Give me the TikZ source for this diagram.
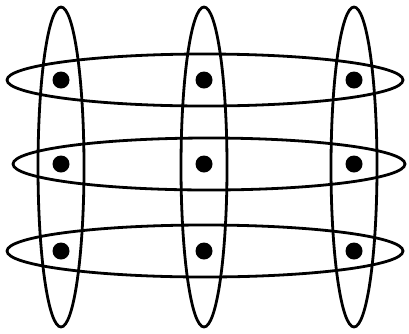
\documentclass[tikz,border=0pt]{standalone}
\usetikzlibrary{shapes,positioning}
\begin{document}
\begin{tikzpicture}[x=1pt,y=-1pt,
    colring/.style={draw, ellipse, line width=2.8pt, minimum width=46pt, minimum height=320pt, inner sep=0pt},
    rowring/.style={draw, ellipse, line width=2.8pt, minimum width=396pt, minimum height=52pt, inner sep=0pt},
    bead/.style={circle, fill=black, minimum size=17pt, inner sep=0pt}]
    \useasboundingbox (0,0) rectangle (409,333);
    % vertical rings
    \node[colring] (colA) at (61,167) {};
    \node[colring] (colB) at (204,167) {};
    \node[colring] (colC) at (354,167) {};
    % horizontal rings
    \node[rowring] (rowA) at (205,80) {};
    \node[rowring, minimum width=392pt] (rowB) at (209,164) {};
    \node[rowring] (rowC) at (205,251) {};
    % beads at the crossings
    \node[bead] (beadAA) at (colA |- rowA) {};
    \node[bead] (beadBA) at (colB |- rowA) {};
    \node[bead] (beadCA) at (colC |- rowA) {};
    \node[bead] (beadAB) at (colA |- rowB) {};
    \node[bead] (beadBB) at (colB |- rowB) {};
    \node[bead] (beadCB) at (colC |- rowB) {};
    \node[bead] (beadAC) at (colA |- rowC) {};
    \node[bead] (beadBC) at (colB |- rowC) {};
    \node[bead] (beadCC) at (colC |- rowC) {};
\end{tikzpicture}
\end{document}
